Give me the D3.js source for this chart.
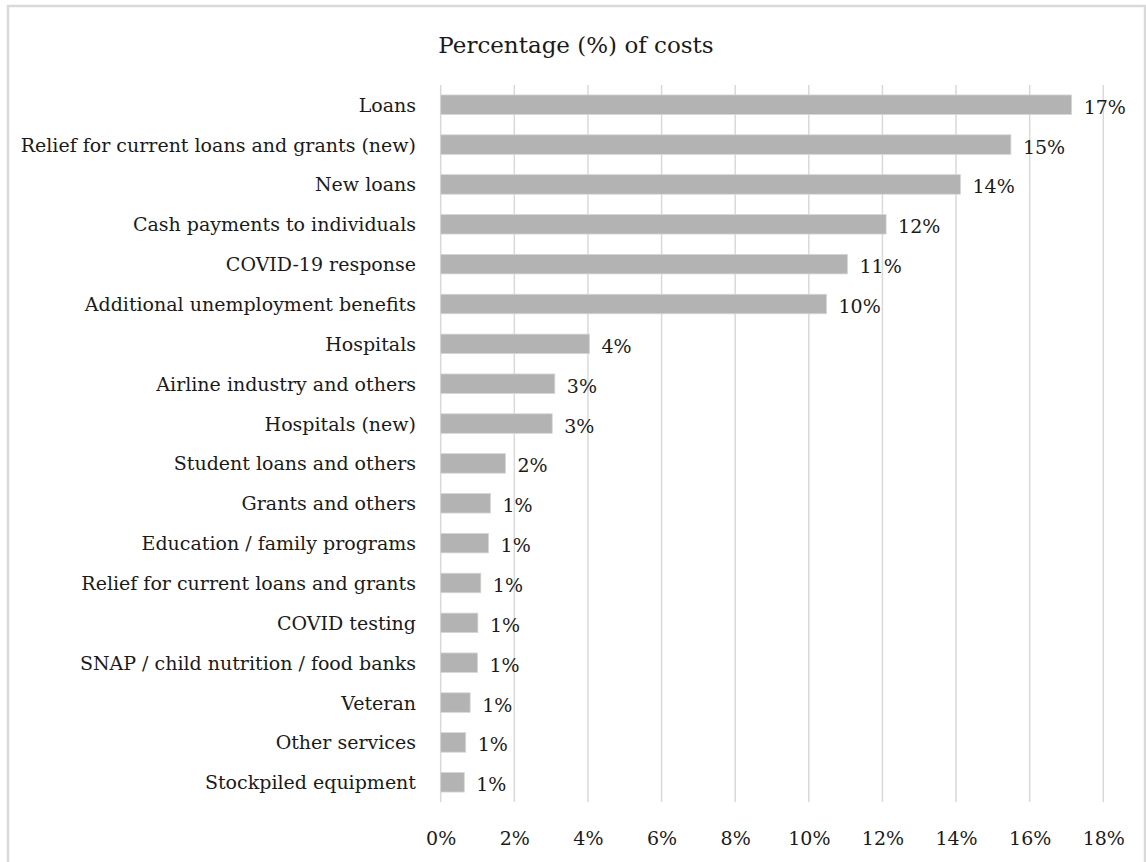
<!DOCTYPE html>
<html>
<head>
<meta charset="utf-8">
<script src="https://cdn.jsdelivr.net/npm/d3@7"></script>
<style>
  html, body { margin: 0; padding: 0; background: #fff; }
  svg { display: block; }
  text { font-family: "DejaVu Serif", "Liberation Serif", serif; fill: #1a1a1a; }
</style>
</head>
<body>
<svg width="1146" height="862"></svg>
<script>
const width = 1146;
const height = 862;

const categories = [
  "Loans",
  "Relief for current loans and grants (new)",
  "New loans",
  "Cash payments to individuals",
  "COVID-19 response",
  "Additional unemployment benefits",
  "Hospitals",
  "Airline industry and others",
  "Hospitals (new)",
  "Student loans and others",
  "Grants and others",
  "Education / family programs",
  "Relief for current loans and grants",
  "COVID testing",
  "SNAP / child nutrition / food banks",
  "Veteran",
  "Other services",
  "Stockpiled equipment"
];

// share of costs in %
const values = [17.14, 15.49, 14.12, 12.1, 11.05, 10.48, 4.04, 3.1, 3.03, 1.76, 1.35, 1.3, 1.09, 1.01, 1.0, 0.8, 0.68, 0.64];

// labels as printed on the chart
const valueLabels = ["17%", "15%", "14%", "12%", "11%", "10%", "4%", "3%", "3%", "2%", "1%", "1%", "1%", "1%", "1%", "1%", "1%", "1%"];

const xTicks = [0, 2, 4, 6, 8, 10, 12, 14, 16, 18];

const data = categories.map((c, i) => ({ name: c, value: values[i], label: valueLabels[i] }));

const svg = d3.select("svg");

// outer frame (top, left, right only)
svg.append("path")
  .attr("d", "M8,870 L8,6 L1145,6 L1145,870")
  .attr("fill", "none")
  .attr("stroke", "#d9d9d9")
  .attr("stroke-width", 2.5);

const plotTop = 85;
const plotBottom = 802;

const x = d3.scaleLinear()
  .domain([0, 18])
  .range([440.7, 1103.3]);

const y = d3.scaleBand()
  .domain(categories)
  .range([plotTop, plotBottom])
  .paddingInner(0.51)
  .paddingOuter(0.25);

// title
svg.append("text")
  .attr("x", 576)
  .attr("y", 53)
  .attr("text-anchor", "middle")
  .attr("font-size", "23px")
  .text("Percentage (%) of costs");

// gridlines
svg.append("g")
  .selectAll("line")
  .data(xTicks)
  .enter()
  .append("line")
  .attr("x1", (d) => x(d))
  .attr("x2", (d) => x(d))
  .attr("y1", plotTop)
  .attr("y2", plotBottom)
  .attr("stroke", "#d9d9d9")
  .attr("stroke-width", 1.5);

// x axis labels
const xAxis = svg.append("g")
  .attr("transform", `translate(0,${plotBottom})`)
  .call(d3.axisBottom(x).tickValues(xTicks).tickSize(0).tickPadding(30).tickFormat((d) => d + "%"));
xAxis.select(".domain").remove();
xAxis.selectAll("text")
  .attr("font-size", "19px")
  .attr("font-family", "DejaVu Serif, serif")
  .attr("fill", "#1a1a1a");

// bars
svg.append("g")
  .selectAll("rect")
  .data(data)
  .enter()
  .append("rect")
  .attr("x", x(0))
  .attr("y", (d) => y(d.name))
  .attr("width", (d) => x(d.value) - x(0))
  .attr("height", y.bandwidth())
  .attr("fill", "#b3b3b3")
  .attr("stroke", "#d6d6d6")
  .attr("stroke-width", 0.8);

// value labels
svg.append("g")
  .selectAll("text")
  .data(data)
  .enter()
  .append("text")
  .attr("x", (d) => x(d.value) + 12)
  .attr("y", (d) => y(d.name) + y.bandwidth() / 2 + 9)
  .attr("font-size", "19px")
  .text((d) => d.label);

// category labels
svg.append("g")
  .selectAll("text")
  .data(data)
  .enter()
  .append("text")
  .attr("x", 416)
  .attr("y", (d) => y(d.name) + y.bandwidth() / 2 + 7)
  .attr("text-anchor", "end")
  .attr("font-size", "19px")
  .text((d) => d.name);
</script>
</body>
</html>
